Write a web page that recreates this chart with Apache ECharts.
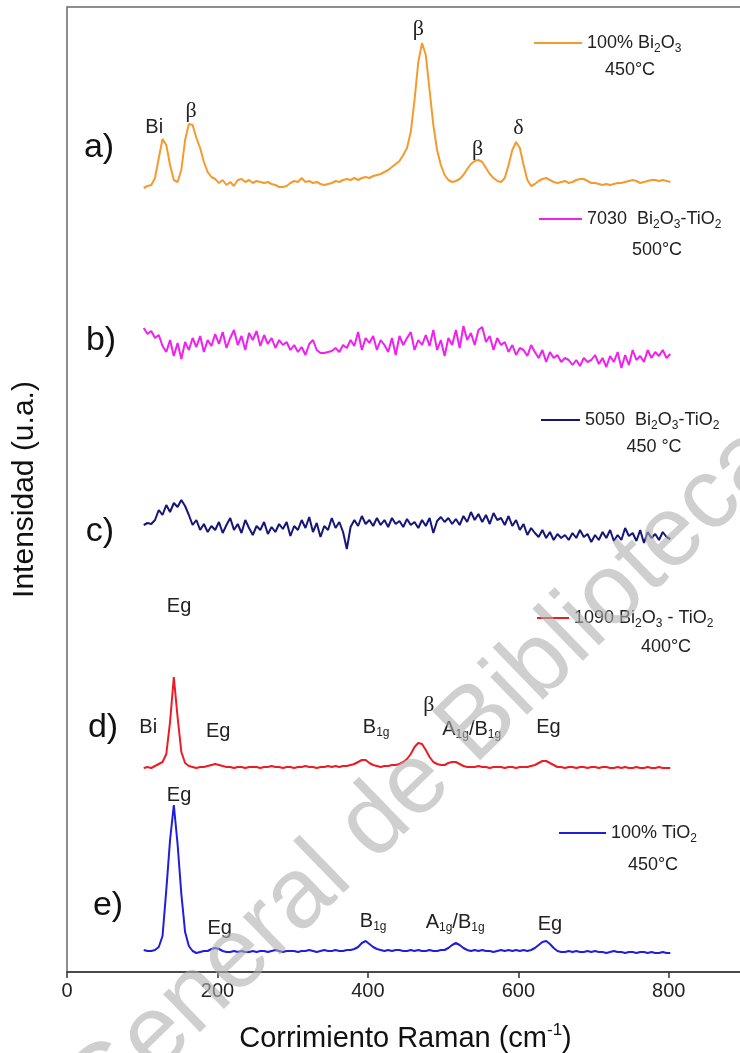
<!DOCTYPE html>
<html><head><meta charset="utf-8">
<script src="https://cdn.jsdelivr.net/npm/echarts@6/dist/echarts.min.js"></script>
<style>html,body{margin:0;padding:0;background:#fff}#chart{width:740px;height:1053px}</style>
</head><body><div id="chart"></div>
<script>
// Raman shift sampling positions (cm-1)
const ramanShift = [];
for (let x = 102; x <= 802; x += 5) ramanShift.push(x);

// Offset intensities (u.a.)
const bi2o3_450 = [
784,786,787,794,814,833,827,807,792,790,
802,832,848,847,834,824,810,800,795,793,
789,792,787,790,786,792,793,790,792,789,
791,790,789,790,788,787,785,785,786,789,
791,790,794,790,791,789,790,788,787,788,
789,791,790,792,793,792,794,792,794,795,
794,796,797,798,800,802,805,808,811,817,
824,840,872,910,929,917,882,847,822,807,
797,792,790,791,793,797,803,808,811,812,
810,804,798,794,791,790,794,807,822,830,
824,807,792,786,788,791,793,794,792,790,
789,790,791,789,790,792,793,793,791,789,
789,788,787,788,787,788,789,789,790,791,
792,791,789,790,791,792,792,791,792,791,
790];
const mix7030_500 = [
644,638,641,634,637,626,620,632,616,629,
613,630,622,634,625,636,620,632,626,638,
628,640,624,634,642,627,636,622,639,632,
641,626,637,628,634,624,632,627,630,622,
627,620,625,617,628,632,622,619,619,620,
621,624,620,627,624,632,626,640,622,634,
629,636,622,632,627,620,634,617,636,627,
634,640,622,632,627,637,626,642,622,632,
616,634,627,642,624,646,632,639,627,642,
645,630,636,622,634,627,630,620,627,617,
624,622,616,627,620,614,622,610,620,614,
617,610,614,612,607,612,606,614,610,612,
617,608,614,605,616,610,620,604,617,607,
622,612,616,610,622,614,620,616,622,614,
618];
const mix5050_450 = [
447,449,448,452,462,457,467,460,469,465,
472,466,457,447,452,442,448,440,446,442,
450,439,447,454,442,448,439,452,444,437,
446,442,450,438,445,440,448,443,450,436,
446,442,452,444,455,440,449,435,446,442,
454,444,450,440,423,445,452,446,456,448,
452,446,454,447,452,445,454,448,451,445,
453,447,450,444,452,446,454,439,451,455,
450,454,448,453,447,456,450,460,452,458,
450,457,448,459,452,454,447,456,446,452,
442,448,437,444,439,435,442,434,440,432,
438,434,437,432,439,434,442,435,438,430,
437,432,440,434,442,431,437,432,444,436,
439,431,442,429,440,434,438,432,440,435,
433];
const mix1090_400 = [
204,205,204,206,208,210,218,250,295,255,
220,209,206,205,204,205,205,206,207,208,
207,206,205,205,204,205,205,204,205,205,
205,204,205,205,206,205,205,204,205,205,
204,205,205,206,205,205,204,205,205,206,
205,206,205,206,206,207,208,210,212,212,
209,207,206,205,206,206,207,207,208,210,
213,218,225,229,228,222,215,210,208,207,
207,209,210,210,208,206,205,205,205,206,
205,205,204,205,205,205,204,205,205,204,
205,205,205,206,207,209,211,211,209,207,
205,205,204,205,205,204,205,205,204,205,
205,204,205,205,204,204,205,204,205,204,
204,205,204,204,205,204,204,205,204,204,
204];
const tio2_450 = [
22,21,21,22,25,36,82,132,167,128,
78,40,26,21,19,20,21,21,23,24,
23,21,20,20,21,20,21,20,20,21,
20,21,21,20,21,22,21,20,21,21,
21,20,21,21,22,21,20,21,22,21,
21,22,21,21,22,22,23,25,29,31,
28,25,23,22,21,22,21,22,22,21,
21,22,21,22,21,21,22,21,21,22,
22,24,27,29,27,24,22,21,22,21,
22,21,21,20,21,22,21,22,21,22,
21,22,21,22,24,27,30,31,28,24,
21,20,20,21,20,21,20,20,21,20,
21,20,20,19,20,21,20,20,19,20,
20,19,20,20,19,20,19,19,20,19,
19];

const xTicks = [0, 200, 400, 600, 800];
const seriesNames = ['100% Bi2O3', '7030 Bi2O3-TiO2', '5050 Bi2O3-TiO2', '1090 Bi2O3-TiO2', '100% TiO2'];
const legendLabels = ['100% Bi{s|2}O{s|3}', '7030  Bi{s|2}O{s|3}-TiO{s|2}', '5050  Bi{s|2}O{s|3}-TiO{s|2}', '1090 Bi{s|2}O{s|3} - TiO{s|2}', '100% TiO{s|2}'];
const temperatures = ['450°C', '500°C', '450 °C', '400°C', '450°C'];
const panelLetters = ['a)', 'b)', 'c)', 'd)', 'e)'];
const colors = ['#F39B2F', '#F020F0', '#161679', '#EC1C24', '#1E1EDC'];

// Peak annotations: [label, wavenumber, intensity]
const peaksA = [['Bi',116,845],['{g|β}',165,861],['{g|β}',467,943],['{g|β}',546,823],['{g|δ}',600,844]];
const peaksD = [['Eg',149,366],['Bi',108,245],['Eg',201,241],['B{s|1g}',411,245],['{g|β}',481,267],['A{s|1g}/B{s|1g}',538,243],['Eg',640,245]];
const peaksE = [['Eg',149,177],['Eg',203,44],['B{s|1g}',407,51],['A{s|1g}/B{s|1g}',516,50],['Eg',642,48]];
const peakSets = [peaksA, [], [], peaksD, peaksE];

const allData = [bi2o3_450, mix7030_500, mix5050_450, mix1090_400, tio2_450];

const FONT = 'Arial, "Liberation Sans", sans-serif';
const richSub = {
  s: { fontSize: 12, verticalAlign: 'bottom', lineHeight: 24, fontFamily: FONT, color: '#222' },
  g: { fontSize: 22, fontFamily: '"Liberation Serif", "Times New Roman", serif', color: '#222' }
};

const series = allData.map((vals, i) => ({
  name: seriesNames[i],
  type: 'line',
  data: ramanShift.map((x, k) => [x, vals[k]]),
  showSymbol: false,
  symbol: 'none',
  lineStyle: { color: colors[i], width: 2 },
  itemStyle: { color: colors[i] },
  z: 3,
  markPoint: peakSets[i].length ? {
    symbol: 'circle', symbolSize: 1, silent: true,
    itemStyle: { color: 'rgba(0,0,0,0)' },
    label: { show: true, position: 'inside', formatter: p => p.name, fontSize: 20, lineHeight: 24, color: '#222', fontFamily: FONT, rich: richSub },
    data: peakSets[i].map(p => ({ name: p[0], coord: [p[1], p[2]] }))
  } : undefined
}));

// legend positions (pixel layout)
const legendPos = [[534, 31, 48], [539, 207, 43], [541, 408, 39], [537, 606, 32], [559, 821, 47]];
const legends = seriesNames.map((n, i) => ({
  data: [n], left: legendPos[i][0], top: legendPos[i][1], padding: 0,
  icon: 'rect', itemWidth: legendPos[i][2], itemHeight: 2, selectedMode: false,
  formatter: () => legendLabels[i],
  textStyle: { fontSize: 18, color: '#222', fontFamily: FONT, lineHeight: 24, rich: { s: { fontSize: 12, verticalAlign: 'bottom', lineHeight: 24, color: '#222', fontFamily: FONT } } }
}));

const tempPos = [[630, 70], [657, 250], [654, 447], [666, 647], [653, 865]];
const panelPos = [[99, 148], [101, 341], [100, 532], [103, 728], [108, 906]];

const graphics = [];
temperatures.forEach((t, i) => graphics.push({ type: 'text', x: tempPos[i][0], y: tempPos[i][1], z: 50,
  style: { text: t, font: '18px ' + FONT, fill: '#222', textAlign: 'center', textVerticalAlign: 'middle' } }));
panelLetters.forEach((t, i) => graphics.push({ type: 'text', x: panelPos[i][0], y: panelPos[i][1], z: 50,
  style: { text: t, font: '34px ' + FONT, fill: '#111', textAlign: 'center', textVerticalAlign: 'middle' } }));
// watermark
graphics.push({ type: 'text', x: 80, y: 1110, rotation: 0.77, z: 100, silent: true,
  style: { text: 'General de Bibliotecas', font: '100px ' + FONT, fill: 'rgba(175,175,175,0.6)', textAlign: 'left', textVerticalAlign: 'middle' } });

const chart = echarts.init(document.getElementById('chart'), null, { renderer: 'canvas' });
chart.setOption({
  animation: false,
  backgroundColor: '#fff',
  grid: { left: 67, top: 7, width: 677, height: 965, outerBoundsMode: 'none', containLabel: false, show: true, borderColor: '#6a6a6a', borderWidth: 1.5, backgroundColor: 'transparent' },
  xAxis: {
    type: 'value', min: 0, max: 900, interval: 200,
    name: 'Corrimiento Raman (cm{sup|-1})', nameLocation: 'middle', nameGap: 50,
    nameTextStyle: { fontSize: 29, color: '#111', fontFamily: FONT, lineHeight: 34, rich: { sup: { fontSize: 17, verticalAlign: 'top', lineHeight: 34, color: '#111', fontFamily: FONT } } },
    axisLine: { lineStyle: { color: '#333', width: 1.5 } },
    axisTick: { length: 6, lineStyle: { color: '#333', width: 1.5 } },
    axisLabel: { fontSize: 20, color: '#222', margin: 9, fontFamily: FONT, showMaxLabel: false,
      formatter: v => (xTicks.indexOf(v) >= 0 ? String(v) : '') },
    splitLine: { show: false }
  },
  yAxis: {
    type: 'value', min: 0, max: 965,
    name: 'Intensidad (u.a.)', nameLocation: 'middle', nameGap: 27, nameRotate: 90,
    nameTextStyle: { fontSize: 30, color: '#111', fontFamily: FONT },
    axisLine: { show: false }, axisTick: { show: false }, axisLabel: { show: false }, splitLine: { show: false }
  },
  legend: legends,
  graphic: graphics,
  series: series
});
</script></body></html>
